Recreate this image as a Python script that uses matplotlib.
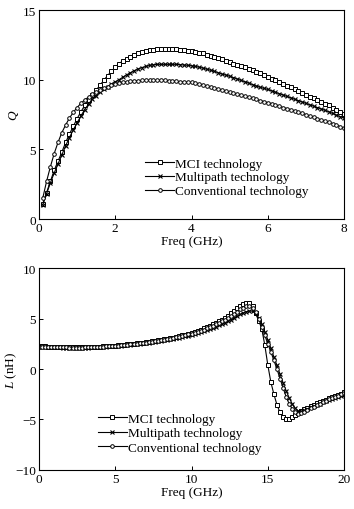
import matplotlib

matplotlib.use("Agg")

import matplotlib.pyplot as plt
import numpy as np

plt.rcParams["font.family"] = ["Liberation Serif", "DejaVu Serif"]
plt.rcParams["mathtext.fontset"] = "custom"
plt.rcParams["mathtext.rm"] = "Liberation Serif"
plt.rcParams["mathtext.it"] = "Liberation Serif:italic"
plt.rcParams["font.size"] = 9.5

labels = ["MCI technology", "Multipath technology", "Conventional technology"]

# Q vs frequency, 0.1 ... 8.0 GHz
freq_q = np.round(np.arange(1, 81) * 0.1, 1)
q_mci = [
    1.1, 1.9, 2.7, 3.5, 4.15, 4.8, 5.5, 6.1, 6.65, 7.2,
    7.7, 8.15, 8.55, 8.9, 9.25, 9.6, 9.95, 10.3, 10.6, 10.9,
    11.15, 11.35, 11.5, 11.65, 11.8, 11.9, 12.0, 12.05, 12.1, 12.15,
    12.2, 12.2, 12.2, 12.2, 12.2, 12.18, 12.15, 12.1, 12.08, 12.05,
    12.0, 11.95, 11.88, 11.8, 11.73, 11.65, 11.55, 11.45, 11.35, 11.25,
    11.15, 11.05, 10.98, 10.9, 10.8, 10.7, 10.58, 10.45, 10.33, 10.2,
    10.08, 9.95, 9.83, 9.7, 9.58, 9.45, 9.33, 9.2, 9.05, 8.9,
    8.78, 8.65, 8.53, 8.4, 8.28, 8.15, 8.0, 7.85, 7.7, 7.55,
]
q_multi = [
    1.0, 1.8, 2.6, 3.3, 3.95, 4.6, 5.25, 5.85, 6.4, 6.9,
    7.4, 7.85, 8.25, 8.6, 8.85, 9.1, 9.3, 9.5, 9.68, 9.85,
    10.0, 10.18, 10.35, 10.5, 10.65, 10.77, 10.87, 10.95, 11.02, 11.07,
    11.1, 11.1, 11.1, 11.1, 11.1, 11.1, 11.08, 11.05, 11.03, 11.0,
    10.95, 10.9, 10.83, 10.75, 10.68, 10.6, 10.5, 10.4, 10.33, 10.25,
    10.15, 10.05, 9.95, 9.85, 9.75, 9.65, 9.55, 9.45, 9.38, 9.3,
    9.2, 9.1, 9.0, 8.9, 8.8, 8.7, 8.6, 8.5, 8.4, 8.3,
    8.2, 8.1, 8.0, 7.9, 7.8, 7.7, 7.58, 7.45, 7.35, 7.25,
]
q_conv = [
    1.5, 2.7, 3.75, 4.7, 5.5, 6.2, 6.75, 7.25, 7.65, 8.0,
    8.3, 8.55, 8.75, 8.95, 9.1, 9.25, 9.4, 9.5, 9.6, 9.7,
    9.75, 9.8, 9.85, 9.88, 9.9, 9.92, 9.95, 9.95, 9.95, 9.95,
    9.95, 9.95, 9.95, 9.93, 9.9, 9.88, 9.85, 9.83, 9.82, 9.8,
    9.75, 9.7, 9.63, 9.55, 9.48, 9.4, 9.33, 9.25, 9.18, 9.1,
    9.03, 8.95, 8.88, 8.8, 8.73, 8.65, 8.58, 8.5, 8.43, 8.35,
    8.28, 8.2, 8.1, 8.0, 7.93, 7.85, 7.75, 7.65, 7.58, 7.5,
    7.4, 7.3, 7.2, 7.1, 7.03, 6.95, 6.85, 6.75, 6.63, 6.5,
]

# L vs frequency, 0 ... 20 GHz
freq_l = np.round(np.arange(0, 101) * 0.2, 1)
l_mci = [
    2.25, 2.24, 2.23, 2.22, 2.21, 2.2, 2.19, 2.18, 2.17, 2.16,
    2.15, 2.15, 2.15, 2.15, 2.15, 2.16, 2.17, 2.18, 2.19, 2.2,
    2.22, 2.24, 2.26, 2.28, 2.3, 2.32, 2.35, 2.38, 2.41, 2.44,
    2.47, 2.5, 2.53, 2.57, 2.61, 2.65, 2.69, 2.73, 2.78, 2.83,
    2.88, 2.93, 2.99, 3.05, 3.11, 3.18, 3.25, 3.33, 3.41, 3.5,
    3.6, 3.7, 3.8, 3.91, 4.03, 4.15, 4.28, 4.42, 4.57, 4.73,
    4.9, 5.08, 5.27, 5.5, 5.75, 6.0, 6.25, 6.45, 6.58, 6.55,
    6.2, 5.5, 4.8, 4.0, 2.4, 0.4, -1.3, -2.5, -3.55, -4.3,
    -4.75, -4.95, -4.95, -4.8, -4.6, -4.4, -4.2, -4.0, -3.85, -3.7,
    -3.55, -3.4, -3.28, -3.15, -3.02, -2.9, -2.78, -2.66, -2.55, -2.43,
    -2.3,
]
l_multi = [
    2.2, 2.19, 2.18, 2.17, 2.16, 2.15, 2.14, 2.13, 2.12, 2.11,
    2.1, 2.1, 2.1, 2.1, 2.1, 2.11, 2.12, 2.13, 2.14, 2.15,
    2.17, 2.19, 2.21, 2.23, 2.25, 2.27, 2.29, 2.32, 2.35, 2.38,
    2.41, 2.44, 2.47, 2.5, 2.54, 2.58, 2.62, 2.66, 2.7, 2.74,
    2.78, 2.83, 2.88, 2.93, 2.98, 3.04, 3.1, 3.16, 3.23, 3.3,
    3.38, 3.46, 3.55, 3.64, 3.74, 3.84, 3.95, 4.06, 4.18, 4.31,
    4.44, 4.58, 4.73, 4.89, 5.06, 5.23, 5.4, 5.56, 5.68, 5.75,
    5.72, 5.5, 5.05, 4.45, 3.7, 2.9, 2.05, 1.2, 0.35, -0.5,
    -1.35, -2.15, -2.85, -3.45, -3.9, -4.15, -4.2, -4.1, -3.95, -3.8,
    -3.7, -3.56, -3.43, -3.3, -3.18, -3.06, -2.95, -2.85, -2.75, -2.65,
    -2.55,
]
l_conv = [
    2.22, 2.21, 2.2, 2.19, 2.18, 2.17, 2.16, 2.15, 2.14, 2.13,
    2.12, 2.12, 2.12, 2.12, 2.12, 2.13, 2.14, 2.15, 2.16, 2.17,
    2.19, 2.21, 2.23, 2.25, 2.27, 2.29, 2.32, 2.35, 2.38, 2.41,
    2.44, 2.47, 2.5, 2.54, 2.58, 2.62, 2.66, 2.7, 2.74, 2.79,
    2.84, 2.89, 2.94, 3.0, 3.06, 3.12, 3.19, 3.26, 3.34, 3.42,
    3.51, 3.6, 3.7, 3.8, 3.91, 4.03, 4.15, 4.28, 4.42, 4.57,
    4.72, 4.88, 5.05, 5.24, 5.45, 5.68, 5.9, 6.08, 6.2, 6.22,
    6.05, 5.6, 4.95, 4.2, 3.35, 2.5, 1.7, 0.85, 0.0, -0.95,
    -1.85, -2.75, -3.45, -3.95, -4.3, -4.45, -4.4, -4.25, -4.08, -3.9,
    -3.73, -3.57, -3.42, -3.28, -3.14, -3.01, -2.88, -2.76, -2.64, -2.52,
    -2.4,
]

styles = [
    dict(marker="s", ms=2.8, mfc="white", mec="black", mew=0.7),
    dict(marker="x", ms=3.4, mec="black", mew=0.8),
    dict(marker="o", ms=2.6, mfc="white", mec="black", mew=0.7),
]


def style_axes(ax):
    ax.tick_params(direction="in", length=3, width=0.7, labelsize=9.5,
                   top=False, right=False, pad=2)
    for spine in ax.spines.values():
        spine.set_linewidth(0.8)


fig = plt.figure(figsize=(3.54, 5.10), dpi=100)

ax1 = fig.add_axes([0.110, 0.5686, 0.862, 0.4098])
for y, lab, st in zip([q_mci, q_multi, q_conv], labels, styles):
    ax1.plot(freq_q, y, color="black", lw=0.8, label=lab, **st)
ax1.set_xlim(0, 8)
ax1.set_ylim(0, 15)
ax1.set_xticks([0, 2, 4, 6, 8])
ax1.set_yticks([0, 5, 10, 15])
ax1.set_xlabel("Freq (GHz)", fontsize=9.5, labelpad=1)
ax1.set_ylabel("$Q$", fontsize=9.5, labelpad=1)
style_axes(ax1)
ax1.legend(loc="upper left", bbox_to_anchor=(0.348, 0.295), frameon=False,
           numpoints=1, handlelength=2.2, handletextpad=0.1,
           labelspacing=0.12, borderpad=0, borderaxespad=0, fontsize=9.5)

ax2 = fig.add_axes([0.110, 0.0765, 0.862, 0.396])
for y, lab, st in zip([l_mci, l_multi, l_conv], labels, styles):
    ax2.plot(freq_l, y, color="black", lw=0.8, label=lab, **st)
ax2.set_xlim(0, 20)
ax2.set_ylim(-10, 10)
ax2.set_xticks([0, 5, 10, 15, 20])
ax2.set_yticks([-10, -5, 0, 5, 10])
ax2.set_xlabel("Freq (GHz)", fontsize=9.5, labelpad=1)
ax2.set_ylabel("$L$ (nH)", fontsize=9.5, labelpad=-3)
style_axes(ax2)
ax2.legend(loc="upper left", bbox_to_anchor=(0.193, 0.285), frameon=False,
           numpoints=1, handlelength=2.2, handletextpad=0.1,
           labelspacing=0.18, borderpad=0, borderaxespad=0, fontsize=9.5)

fig.savefig("out.png", dpi=100)
